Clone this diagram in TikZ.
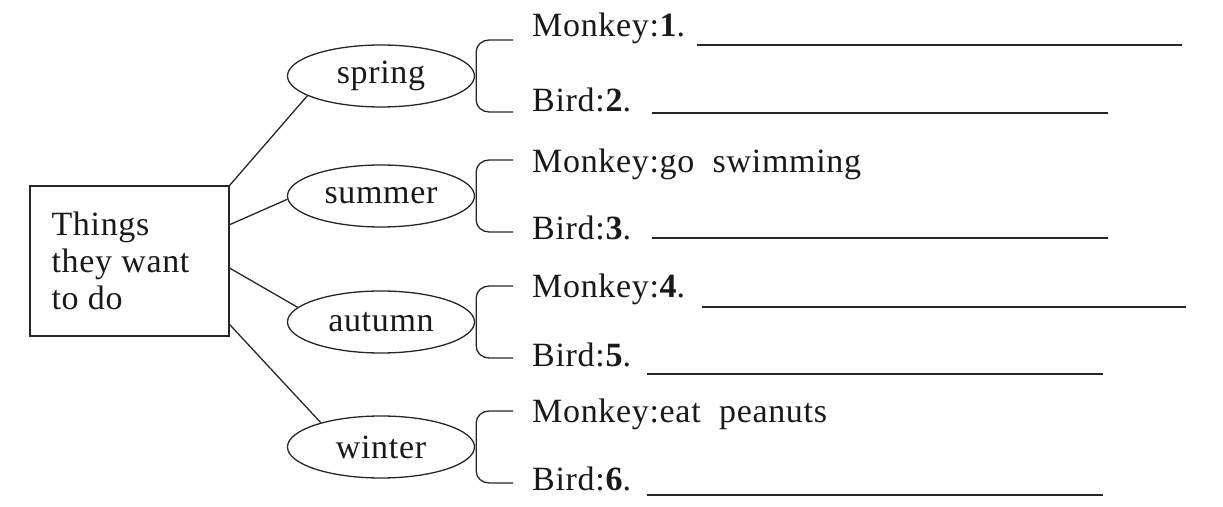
\documentclass[tikz,border=0pt]{standalone}
\usepackage{fontspec}
\setmainfont{Liberation Serif}[LetterSpace=2]
\usetikzlibrary{shapes.geometric,calc}
\begin{document}
\begin{tikzpicture}[x=1pt,y=1pt,
  line/.style={line width=1.3pt,black!85},
  blank/.style={line width=2pt,black!85},
  season/.style={draw,line width=1.3pt,black!85,ellipse,minimum width=187pt,minimum height=62pt,inner sep=0pt,text=black!90,font=\fontsize{34}{37}\selectfont},
  entry/.style={anchor=base west,inner sep=0pt,text=black!90,font=\fontsize{34}{37}\selectfont}]
\useasboundingbox (0,0) rectangle (1223,506);
% central box
\node[draw,line width=1.3pt,black!85,minimum width=199pt,minimum height=150pt,inner sep=0pt] (box) at (129.5,245) {};
\node[anchor=west,align=left,inner sep=0pt,text=black!90,font=\fontsize{34}{37}\selectfont] (boxtext) at ([xshift=22pt]box.west) {Things\\they want\\to do};
% seasons
\node[season] (spring) at (381,430) {spring};
\node[season] (summer) at (381,310) {summer};
\node[season] (autumn) at (381,184) {autumn};
\node[season] (winter) at (381,59) {winter};
% connectors from box
\coordinate (c1) at (box.north east);
\coordinate (c2) at ($(box.north east)!0.26!(box.south east)$);
\coordinate (c3) at ($(box.north east)!0.547!(box.south east)$);
\coordinate (c4) at ($(box.north east)!0.92!(box.south east)$);
\draw[line] (c1) -- (spring.195);
\draw[line] (c2) -- (summer.182);
\draw[line] (c3) -- (autumn.170);
\draw[line] (c4) -- (winter.158);
% brackets
\foreach \n in {spring,summer,autumn,winter}{
  \draw[line] ([xshift=38pt,yshift=36pt]\n.east) -- ([xshift=14pt,yshift=36pt]\n.east)
     to[out=180,in=90] ([xshift=1pt,yshift=24pt]\n.east) -- ([xshift=1pt,yshift=-24pt]\n.east)
     to[out=-90,in=180] ([xshift=14pt,yshift=-36pt]\n.east) -- ([xshift=38pt,yshift=-36pt]\n.east);
}
% entries
\node[entry] (m1) at (532,469) {Monkey:\textbf{1}.};
\node[entry] (b2) at (532,394) {Bird:\textbf{2}.};
\node[entry] (m2) at (532,333) {Monkey:go\ \ swimming};
\node[entry] (b3) at (532,266) {Bird:\textbf{3}.};
\node[entry] (m4) at (532,208) {Monkey:\textbf{4}.};
\node[entry] (b5) at (532,139) {Bird:\textbf{5}.};
\node[entry] (m5) at (532,83) {Monkey:eat\ \ peanuts};
\node[entry] (b6) at (532,16) {Bird:\textbf{6}.};
% answer lines
\draw[blank] (697,461) -- (1182,461);
\draw[blank] (652,393) -- (1108,393);
\draw[blank] (652,268) -- (1108,268);
\draw[blank] (702,199) -- (1186,199);
\draw[blank] (647,132) -- (1103,132);
\draw[blank] (647,11) -- (1103,11);
\end{tikzpicture}
\end{document}
